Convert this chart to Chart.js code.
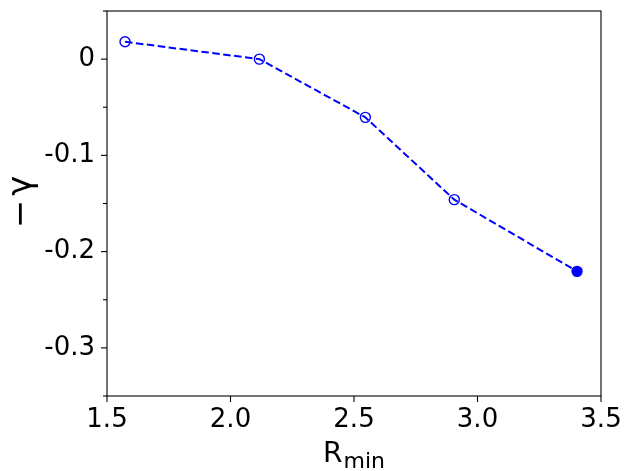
<!DOCTYPE html>
<html>
<head>
<meta charset="utf-8">
<script src="https://cdn.jsdelivr.net/npm/chart.js@4"></script>
<style>
html,body{margin:0;padding:0;background:#fff;}
#wrap{width:625px;height:471px;position:relative;}
</style>
</head>
<body>
<div id="wrap"><canvas id="c" width="625" height="471"></canvas></div>
<script>
// ---- data ----
const rMin = [1.573, 2.117, 2.546, 2.906, 3.403];
const negGamma = [0.018, 0.0, -0.0605, -0.146, -0.2205];
const xTicks = [1.5, 2.0, 2.5, 3.0, 3.5];
const yTicks = [0, -0.1, -0.2, -0.3];
const xLabelMain = "R";
const xLabelSub = "min";
const yLabelSign = "\u2212";
const yLabelSym = "\u03b3";

const FONT = "'DejaVu Sans', sans-serif";
const points = rMin.map((x, i) => ({x: x, y: negGamma[i]}));
const lastIdx = points.length - 1;

const isMajorY = v => yTicks.some(t => Math.abs(t - v) < 1e-6);
const fmtY = v => Math.abs(v) < 1e-9 ? "0" : v.toFixed(1);

const decor = {
  id: 'decor',
  afterDraw(chart) {
    const ctx = chart.ctx;
    const a = chart.chartArea;
    const xs = chart.scales.x, ys = chart.scales.y;
    ctx.save();
    ctx.strokeStyle = '#000';
    ctx.lineWidth = 1.1;
    ctx.strokeRect(a.left, a.top, a.right - a.left, a.bottom - a.top);
    ys.ticks.forEach(t => {
      const p = ys.getPixelForValue(t.value);
      const len = isMajorY(t.value) ? 6 : 4;
      ctx.beginPath();
      ctx.moveTo(a.left - len, p);
      ctx.lineTo(a.left, p);
      ctx.stroke();
    });
    xs.ticks.forEach(t => {
      const p = xs.getPixelForValue(t.value);
      ctx.beginPath();
      ctx.moveTo(p, a.bottom);
      ctx.lineTo(p, a.bottom + 6);
      ctx.stroke();
    });
    // x label
    ctx.fillStyle = '#000';
    ctx.textBaseline = 'alphabetic';
    ctx.font = "28px " + FONT;
    const wR = ctx.measureText(xLabelMain).width;
    ctx.font = "22px " + FONT;
    const wS = ctx.measureText(xLabelSub).width;
    const cx = (a.left + a.right) / 2;
    const x0 = cx - (wR + wS + 1) / 2;
    ctx.font = "28px " + FONT;
    ctx.textAlign = 'left';
    ctx.fillText(xLabelMain, x0, 462);
    ctx.font = "22px " + FONT;
    ctx.fillText(xLabelSub, x0 + wR + 1, 467.5);
    // y label (rotated): minus then gamma with a small gap
    ctx.translate(22, 202);
    ctx.rotate(-Math.PI / 2);
    ctx.font = "34px " + FONT;
    ctx.textBaseline = 'middle';
    const wM = ctx.measureText(yLabelSign).width;
    const wG = ctx.measureText(yLabelSym).width;
    const gap = 4;
    const tot = wM + gap + wG;
    ctx.textAlign = 'left';
    ctx.fillText(yLabelSign, -tot / 2, 0);
    ctx.fillText(yLabelSym, -tot / 2 + wM + gap, 0);
    ctx.restore();
  }
};

new Chart(document.getElementById('c'), {
  type: 'line',
  data: {
    datasets: [{
      data: points,
      borderColor: '#0000ff',
      borderWidth: 2,
      borderDash: [7.5, 3.5],
      fill: false,
      tension: 0,
      pointRadius: 5,
      pointBorderWidth: 1.4,
      pointBorderColor: '#0000ff',
      pointBackgroundColor: ctx => ctx.dataIndex === lastIdx ? '#0000ff' : 'rgba(0,0,0,0)'
    }]
  },
  options: {
    responsive: false,
    animation: false,
    events: [],
    layout: {padding: {top: 11, right: 24, left: 0, bottom: 0}},
    plugins: {legend: {display: false}, tooltip: {enabled: false}},
    scales: {
      x: {
        type: 'linear',
        min: 1.5, max: 3.5,
        afterBuildTicks: s => { s.ticks = xTicks.map(v => ({value: v})); },
        afterFit: s => { s.height = 75; s.paddingLeft = 0; s.paddingRight = 0; },
        grid: {display: false, drawTicks: false},
        border: {display: false},
        ticks: {
          padding: 9,
          color: '#000',
          font: {family: FONT, size: 26},
          maxRotation: 0,
          callback: v => Number(v).toFixed(1)
        }
      },
      y: {
        type: 'linear',
        min: -0.35, max: 0.05,
        afterBuildTicks: s => {
          const arr = [];
          for (let k = -7; k <= 1; k++) arr.push({value: k * 0.05});
          s.ticks = arr;
        },
        afterFit: s => { s.width = 107; s.paddingTop = 0; s.paddingBottom = 0; },
        grid: {display: false, drawTicks: false},
        border: {display: false},
        ticks: {
          padding: 12,
          color: '#000',
          font: {family: FONT, size: 26},
          callback: v => isMajorY(v) ? fmtY(v) : ''
        }
      }
    }
  },
  plugins: [decor]
});
</script>
</body>
</html>
